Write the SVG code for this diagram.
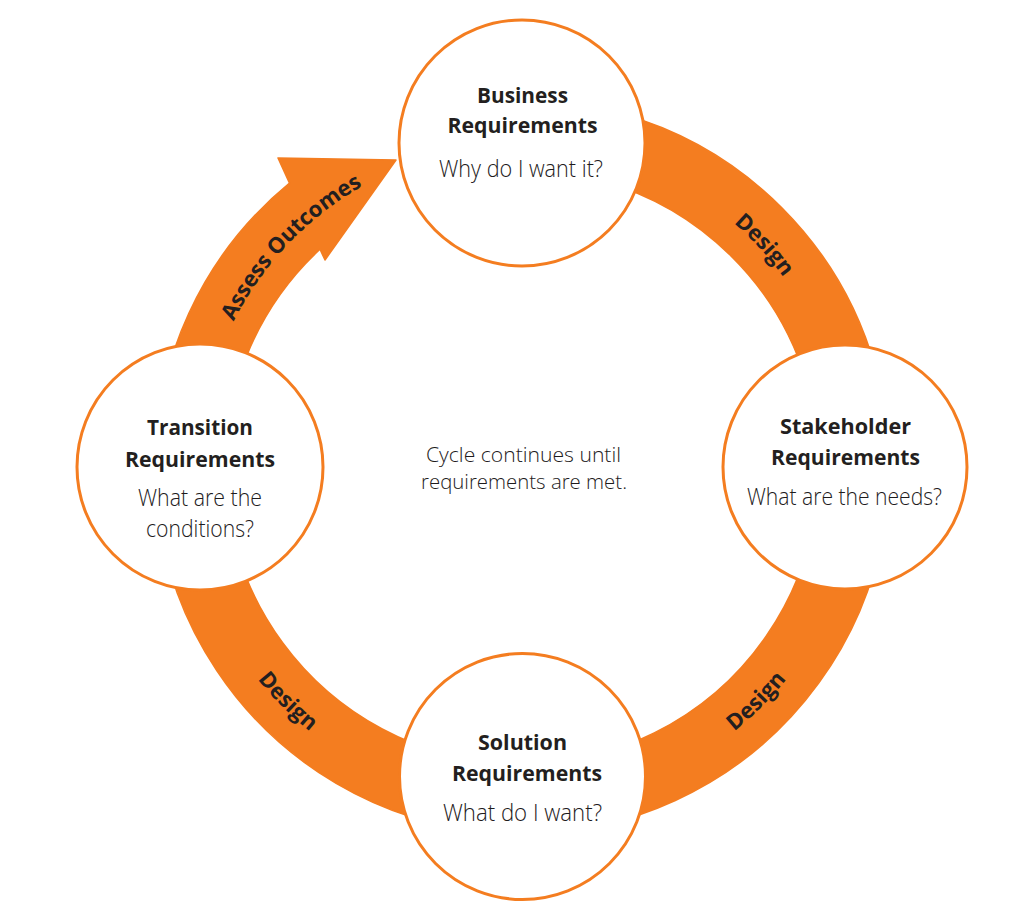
<svg xmlns="http://www.w3.org/2000/svg" width="1024" height="921" viewBox="0 0 1024 921">
  <style>
    .ring { fill: #F47D20; stroke: #F47D20; stroke-width: 1.5; stroke-linejoin: round; }
    .node { fill: #FFFFFF; stroke: #F47D20; stroke-width: 3; }
    .title { font-family: "Open Sans", "Liberation Sans", sans-serif; font-weight: 700; font-size: 22px; fill: #231F20; text-anchor: middle; }
    .sub { font-family: "Open Sans", "Liberation Sans", sans-serif; font-weight: 300; font-size: 23px; fill: #1E1B1C; text-anchor: middle; }
    .center { font-family: "Open Sans", "Liberation Sans", sans-serif; font-weight: 300; font-size: 19.5px; fill: #1E1B1C; text-anchor: middle; }
    .lbl { font-family: "Open Sans", "Liberation Sans", sans-serif; font-weight: 700; font-size: 22px; fill: #231F20; }
  </style>
  <defs>
    <path id="arcTR" d="M 632.5 163.5 A 323 323 0 0 1 834.0 383.4"/>
    <path id="arcBR" d="M 626.8 789.4 A 339 339 0 0 0 844.4 571.8"/>
    <path id="arcBL" d="M 199.6 571.8 A 339 339 0 0 0 417.2 789.4"/>
    <path id="arcTL" d="M 199 467 A 323 323 0 0 1 516.4 144.0"/>
  </defs>
  <rect x="0" y="0" width="1024" height="921" fill="#FFFFFF"/>

  <g id="connectors">
    <path class="ring" d="M 458.27 105.57 A 367 367 0 1 1 289.5 183.1 L 278 158 L 396 160 L 325 260 L 320.0 249.3 A 297 297 0 1 0 470.43 174.51 Z"/>
    <text class="lbl"><textPath href="#arcTR" startOffset="50%" text-anchor="middle">Design</textPath></text>
    <text class="lbl"><textPath href="#arcBR" startOffset="50%" text-anchor="middle">Design</textPath></text>
    <text class="lbl"><textPath href="#arcBL" startOffset="50%" text-anchor="middle">Design</textPath></text>
    <text class="lbl"><textPath href="#arcTL" startOffset="49%" text-anchor="middle">Assess Outcomes</textPath></text>
  </g>

  <g id="business">
    <circle class="node" cx="522" cy="143" r="123"/>
    <text class="title" x="522.5" y="103" textLength="91" lengthAdjust="spacingAndGlyphs">Business</text>
    <text class="title" x="522.5" y="133" textLength="150" lengthAdjust="spacingAndGlyphs">Requirements</text>
    <text class="sub" x="521" y="177" textLength="164" lengthAdjust="spacingAndGlyphs">Why do I want it?</text>
  </g>

  <g id="stakeholder">
    <circle class="node" cx="845" cy="467" r="122"/>
    <text class="title" x="845.5" y="434" textLength="131" lengthAdjust="spacingAndGlyphs">Stakeholder</text>
    <text class="title" x="845.5" y="465" textLength="149" lengthAdjust="spacingAndGlyphs">Requirements</text>
    <text class="sub" x="844.5" y="505" textLength="195" lengthAdjust="spacingAndGlyphs">What are the needs?</text>
  </g>

  <g id="solution">
    <circle class="node" cx="522.5" cy="776.5" r="123"/>
    <text class="title" x="522.5" y="750" textLength="89" lengthAdjust="spacingAndGlyphs">Solution</text>
    <text class="title" x="527" y="781" textLength="150" lengthAdjust="spacingAndGlyphs">Requirements</text>
    <text class="sub" x="522.5" y="821" textLength="159" lengthAdjust="spacingAndGlyphs">What do I want?</text>
  </g>

  <g id="transition">
    <circle class="node" cx="200" cy="467" r="123"/>
    <text class="title" x="200" y="435" textLength="106" lengthAdjust="spacingAndGlyphs">Transition</text>
    <text class="title" x="200" y="467" textLength="150" lengthAdjust="spacingAndGlyphs">Requirements</text>
    <text class="sub" x="200" y="506" textLength="124" lengthAdjust="spacingAndGlyphs">What are the</text>
    <text class="sub" x="200" y="537" textLength="108" lengthAdjust="spacingAndGlyphs">conditions?</text>
  </g>

  <g id="cycle-note">
    <text class="center" x="523.5" y="461.5" textLength="195" lengthAdjust="spacingAndGlyphs">Cycle continues until</text>
    <text class="center" x="524" y="488.5" textLength="206" lengthAdjust="spacingAndGlyphs">requirements are met.</text>
  </g>
</svg>
